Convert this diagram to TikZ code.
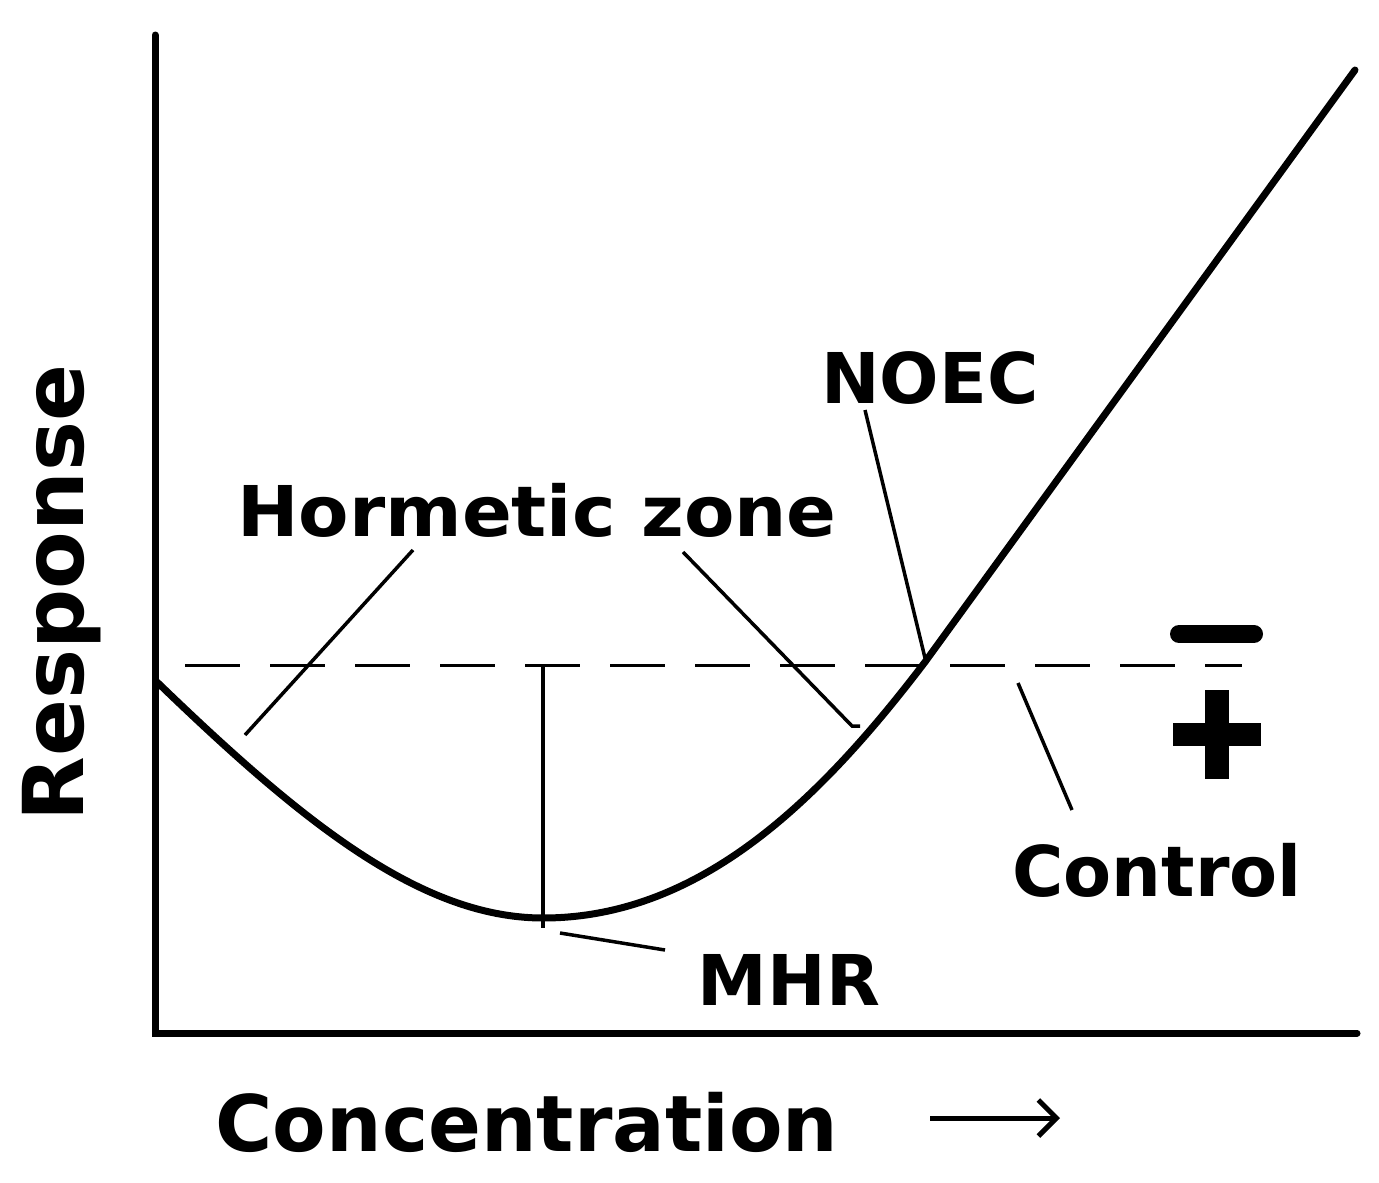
\documentclass[tikz,border=0pt]{standalone}
\usepackage{fontspec}
\setmainfont{DejaVu Sans}
\usetikzlibrary{arrows.meta}
\begin{document}
\begin{tikzpicture}[x=1pt,y=-1pt,
  lbl/.style={font=\bfseries\fontsize{70}{70}\selectfont, inner sep=0pt},
  thin/.style={line width=3.5pt},
  thick/.style={line width=7pt}]
\useasboundingbox (0,0) rectangle (1379,1183);
% axes
\coordinate (top) at (155,35); \coordinate (org) at (155,1033); \coordinate (xend) at (1357,1033);
\draw[thick, line cap=round] (top) -- (org) -- (xend);
% dashed control
\coordinate (d0) at (185,665); \coordinate (d1) at (1242,665);
\draw[line width=3pt, dash pattern=on 55pt off 30pt] (d0) -- (d1);
% curve
\coordinate (c0) at (157,682); \coordinate (cm) at (543,918); \coordinate (cn) at (925,662); \coordinate (c1) at (1355,70);
\draw[thick, line cap=round] (c0) .. controls (300,820) and (420,918) .. (cm)
  .. controls (700,918) and (820,800) .. (cn) -- (c1);
% labels
\node[lbl, xscale=1.05] (horm) at (537,510) {Hormetic zone};
\node[lbl] (noec) at (930,378) {NOEC};
\node[lbl] (ctrl) at (1157,870) {Control};
\node[lbl] (mhr) at (789,980) {MHR};
\node[lbl, rotate=90, font=\bfseries\fontsize{84}{84}\selectfont] (resp) at (62,593) {Response};
\node[lbl, font=\bfseries\fontsize{78}{78}\selectfont] (conc) at (527,1122) {Concentration};
% leaders
\coordinate (h1a) at (245,735); \coordinate (h1b) at (413,550);
\coordinate (h2a) at (683,552); \coordinate (h2b) at (852,726); \coordinate (h2c) at (860,726);
\coordinate (n1) at (865,410); \coordinate (n2) at (925,658);
\coordinate (k1) at (1018,683); \coordinate (k2) at (1072,810);
\coordinate (m1) at (543,665); \coordinate (m2) at (543,928);
\coordinate (m3) at (560,933); \coordinate (m4) at (665,950);
\draw[thin] (h1a) -- (h1b);
\draw[thin] (h2a) -- (h2b) -- (h2c);
\draw[thin] (n1) -- (n2);
\draw[thin] (k1) -- (k2);
\draw[thin] (m1) -- (m2);
\draw[thin] (m3) -- (m4);
% minus / plus
\coordinate (mi1) at (1179,634); \coordinate (mi2) at (1254,634);
\draw[line width=18pt, line cap=round] (mi1) -- (mi2);
\fill (1173,723) rectangle (1261,746);
\fill (1205,690) rectangle (1229,779);
% arrow
\coordinate (a1) at (930,1118); \coordinate (a2) at (1060,1118);
\draw[line width=5pt, -{Straight Barb[length=18pt,width=36pt]}] (a1) -- (a2);
\end{tikzpicture}
\end{document}
